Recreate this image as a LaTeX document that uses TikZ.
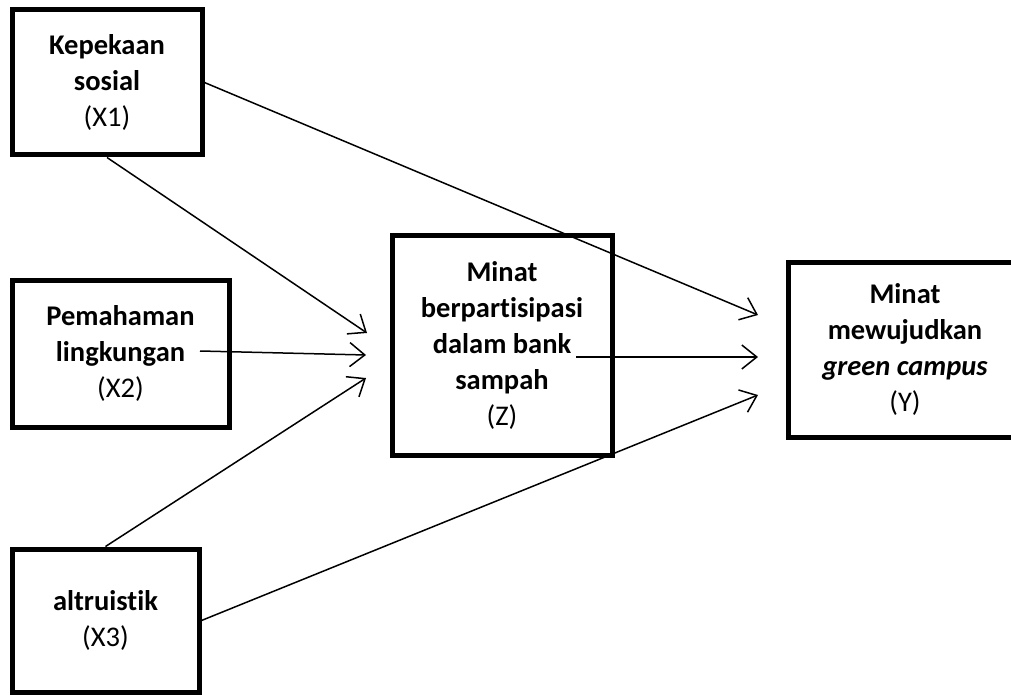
\documentclass[tikz,border=0pt]{standalone}
\usepackage{fontspec}
\setmainfont{Carlito}[Ligatures=NoCommon]
\usetikzlibrary{arrows.meta}
\begin{document}
\begin{tikzpicture}[x=1pt,y=-1pt,
	box/.style={draw, line width=5pt, align=center, inner sep=0pt, font=\fontsize{28.5}{36}\selectfont},
	link/.style={line width=1.5pt, -{Straight Barb[length=15pt,width=24pt]}}]
	\useasboundingbox (0,0) rectangle (1011,695);
	\node (X1) at (107, 82.5)	[box, minimum width=190pt, minimum height=145pt]	{\textbf{Kepekaan}\\\textbf{sosial}\\(X1)};
	\node (X2) at (120.5, 353.5)	[box, minimum width=217pt, minimum height=147pt]	{\textbf{Pemahaman}\\\textbf{lingkungan}\\(X2)};
	\node (X3) at (105.5, 620.5)	[box, minimum width=187pt, minimum height=143pt]	{\textbf{altruistik}\\(X3)};
	\node (Z) at (502, 345)	[box, minimum width=220pt, minimum height=220pt]	{\textbf{Minat}\\\textbf{berpartisipasi}\\\textbf{dalam bank}\\\textbf{sampah}\\(Z)};
	\node (Y) at (905, 349.5)	[box, minimum width=234pt, minimum height=175pt]	{\textbf{Minat}\\\textbf{mewujudkan}\\\textbf{\textit{green campus}}\\(Y)};
	% ends of the arrows
	\coordinate (z1) at (367, 333);
	\coordinate (z2) at (366, 355);
	\coordinate (z3) at (366, 378);
	\coordinate (y1) at (758, 315);
	\coordinate (y2) at (758, 357);
	\coordinate (y3) at (758, 395);
	\coordinate (x2s) at (200, 351);
	\coordinate (zs) at (576, 357);
	\draw[link] (X1.east) -- (y1);
	\draw[link] (X1.south) -- (z1);
	\draw[link] (x2s) -- (z2);
	\draw[link] (X3.north) -- (z3);
	\draw[link] (zs) -- (y2);
	\draw[link] (X3.east) -- (y3);
\end{tikzpicture}
\end{document}
